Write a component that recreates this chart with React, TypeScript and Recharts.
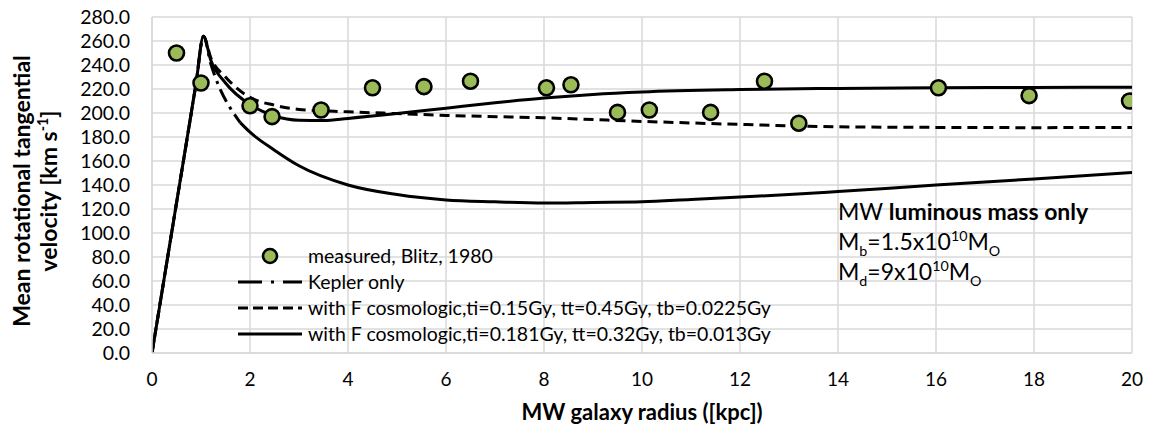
import React from 'react';
import { ComposedChart, Line, Scatter, XAxis, YAxis, CartesianGrid } from 'recharts';

// measured, Blitz 1980
const measuredR = [0.5, 1.0, 2.0, 2.45, 3.45, 4.5, 5.55, 6.5, 8.05, 8.55, 9.5, 10.15, 11.4, 12.5, 13.2, 16.05, 17.9, 19.95];
const measuredV = [250, 225, 206, 197, 202.5, 221, 222, 226.5, 221, 223.5, 200.5, 202.5, 200.5, 226.5, 191.5, 221, 214.5, 210];

// Kepler only (dash-dot part near the peak)
const keplerR = [0, 0.5, 0.9, 1.05, 1.2, 1.4, 1.6, 1.8];
const keplerV = [0, 125, 225, 264, 241, 219, 204, 192];
// Kepler continuation (drawn solid)
const keplerTailR = [1.8, 2.0, 2.5, 3, 4, 5, 6, 7, 8, 9, 10, 11, 12, 13, 14, 16, 18, 20];
const keplerTailV = [192, 184, 169, 156, 140, 132, 127.5, 126, 125, 125.5, 126, 128, 130, 132, 134.5, 140, 145, 150.5];

// with F cosmologic, ti=0.15Gy, tt=0.45Gy, tb=0.0225Gy (dashed)
const cosmoAR = [0, 0.5, 0.9, 1.05, 1.2, 1.5, 2, 2.5, 3, 4, 5, 6, 8, 10, 12, 14, 16, 18, 20];
const cosmoAV = [0, 125, 225, 264, 246, 230, 213, 206.5, 203, 201, 199.5, 198, 196, 193, 190.5, 188.5, 188, 187.8, 188];

// with F cosmologic, ti=0.181Gy, tt=0.32Gy, tb=0.013Gy (solid)
const cosmoBR = [0, 0.5, 0.9, 1.05, 1.2, 1.5, 2, 2.5, 3, 3.5, 4, 5, 6, 7, 8, 9, 10, 12, 14, 16, 18, 20];
const cosmoBV = [0, 125, 225, 264, 244, 225, 207, 197.5, 194, 193.8, 195.5, 199.5, 204, 208.5, 212.5, 215.5, 217.5, 219.5, 220.5, 221, 221.3, 221.5];

const xTicks = [0, 2, 4, 6, 8, 10, 12, 14, 16, 18, 20];
const yTicks = [0, 20, 40, 60, 80, 100, 120, 140, 160, 180, 200, 220, 240, 260, 280];

const legendLabels = [
  'measured, Blitz, 1980',
  'Kepler only',
  'with F cosmologic,ti=0.15Gy, tt=0.45Gy, tb=0.0225Gy',
  'with F cosmologic,ti=0.181Gy, tt=0.32Gy, tb=0.013Gy',
];

const zip = (xs: number[], ys: number[]) => xs.map((x, i) => ({ x, y: ys[i] }));

const measured = zip(measuredR, measuredV);
const kepler = zip(keplerR, keplerV);
const keplerTail = zip(keplerTailR, keplerTailV);
const cosmoA = zip(cosmoAR, cosmoAV);
const cosmoB = zip(cosmoBR, cosmoBV);

const FONT = 'Lato, "Open Sans", sans-serif';
const GREEN = '#9bbb59';

const Dot = (props: any) => (
  <circle cx={props.cx} cy={props.cy} r={7.5} fill={GREEN} stroke="#000" strokeWidth={2.6} />
);

const LegendBox = () => {
  const row = (sample: React.ReactNode, label: string, i: number) => (
    <div key={i} style={{ display: 'flex', alignItems: 'center', height: 26 }}>
      <svg width={64} height={26} style={{ flex: 'none' }}>{sample}</svg>
      <span style={{ marginLeft: 6, fontSize: 19.5, lineHeight: '26px', color: '#000', whiteSpace: 'nowrap' }}>{label}</span>
    </div>
  );
  return (
    <div style={{ position: 'absolute', left: 238, top: 243, fontFamily: FONT }}>
      {row(<circle cx={32} cy={13} r={7} fill={GREEN} stroke="#000" strokeWidth={2.6} />, legendLabels[0], 0)}
      {row(<line x1={0} y1={13} x2={64} y2={13} stroke="#000" strokeWidth={3} strokeDasharray="24 9 3 9 24" />, legendLabels[1], 1)}
      {row(<line x1={0} y1={13} x2={64} y2={13} stroke="#000" strokeWidth={3} strokeDasharray="10 5" />, legendLabels[2], 2)}
      {row(<line x1={0} y1={13} x2={64} y2={13} stroke="#000" strokeWidth={3} />, legendLabels[3], 3)}
    </div>
  );
};

const supS: React.CSSProperties = { fontSize: '0.62em', verticalAlign: 'super', lineHeight: 0 };
const subS: React.CSSProperties = { fontSize: '0.62em', verticalAlign: 'sub', lineHeight: 0 };

export default function App() {
  return (
    <div style={{ position: 'relative', width: 1158, height: 437, fontFamily: FONT, background: '#fff' }}>
      <style>{'body{margin:0}'}</style>
      <ComposedChart width={1158} height={437} margin={{ top: 17, right: 26, bottom: 0, left: 0 }} style={{ fontFamily: FONT }}>
        <CartesianGrid stroke="#d9d9d9" strokeWidth={1.5} />
        <XAxis
          type="number"
          dataKey="x"
          domain={[0, 20]}
          ticks={xTicks}
          interval={0}
          allowDataOverflow
          height={84}
          tickLine={false}
          tickSize={0}
          tickMargin={20}
          axisLine={{ stroke: '#d9d9d9', strokeWidth: 1.5 }}
          tick={{ fontSize: 19, fill: '#000', fontFamily: FONT }}
        />
        <YAxis
          type="number"
          dataKey="y"
          domain={[0, 280]}
          ticks={yTicks}
          interval={0}
          allowDataOverflow
          width={152}
          tickLine={false}
          tickSize={0}
          tickMargin={22}
          tickFormatter={(v: number) => v.toFixed(1)}
          axisLine={{ stroke: '#d9d9d9', strokeWidth: 1.5 }}
          tick={{ fontSize: 19.5, fill: '#000', fontFamily: FONT }}
        />
        <Line data={keplerTail} dataKey="y" type="monotone" stroke="#000" strokeWidth={3} dot={false} activeDot={false} isAnimationActive={false} legendType="none" />
        <Line data={kepler} dataKey="y" type="monotone" stroke="#000" strokeWidth={3} strokeDasharray="14 6 3 6" dot={false} activeDot={false} isAnimationActive={false} />
        <Line data={cosmoA} dataKey="y" type="monotone" stroke="#000" strokeWidth={3} strokeDasharray="10 6" dot={false} activeDot={false} isAnimationActive={false} />
        <Line data={cosmoB} dataKey="y" type="monotone" stroke="#000" strokeWidth={3} dot={false} activeDot={false} isAnimationActive={false} />
        <Scatter data={measured} dataKey="y" shape={Dot} isAnimationActive={false} />
      </ComposedChart>

      {/* Y axis title */}
      <div
        style={{
          position: 'absolute',
          left: 35 - 170,
          top: 191 - 27,
          width: 340,
          height: 54,
          transform: 'rotate(-90deg)',
          textAlign: 'center',
          fontWeight: 'bold',
          fontSize: 23,
          lineHeight: '27px',
          color: '#000',
          whiteSpace: 'nowrap',
        }}
      >
        <div>Mean rotational tangential</div>
        <div>velocity [km s<span style={supS}>-1</span>]</div>
      </div>

      {/* X axis title */}
      <div style={{ position: 'absolute', left: 142, width: 1000, top: 399, textAlign: 'center', fontWeight: 'bold', fontSize: 22, lineHeight: '26px', color: '#000' }}>
        MW galaxy radius ([kpc])
      </div>

      <LegendBox />

      {/* Annotation */}
      <div style={{ position: 'absolute', left: 838, top: 196, fontSize: 23, lineHeight: '30px', color: '#000', whiteSpace: 'nowrap' }}>
        <div>MW <b>luminous mass only</b></div>
        <div>M<span style={subS}>b</span>=1.5x10<span style={supS}>10</span>M<span style={subS}>O</span></div>
        <div>M<span style={subS}>d</span>=9x10<span style={supS}>10</span>M<span style={subS}>O</span></div>
      </div>
    </div>
  );
}
